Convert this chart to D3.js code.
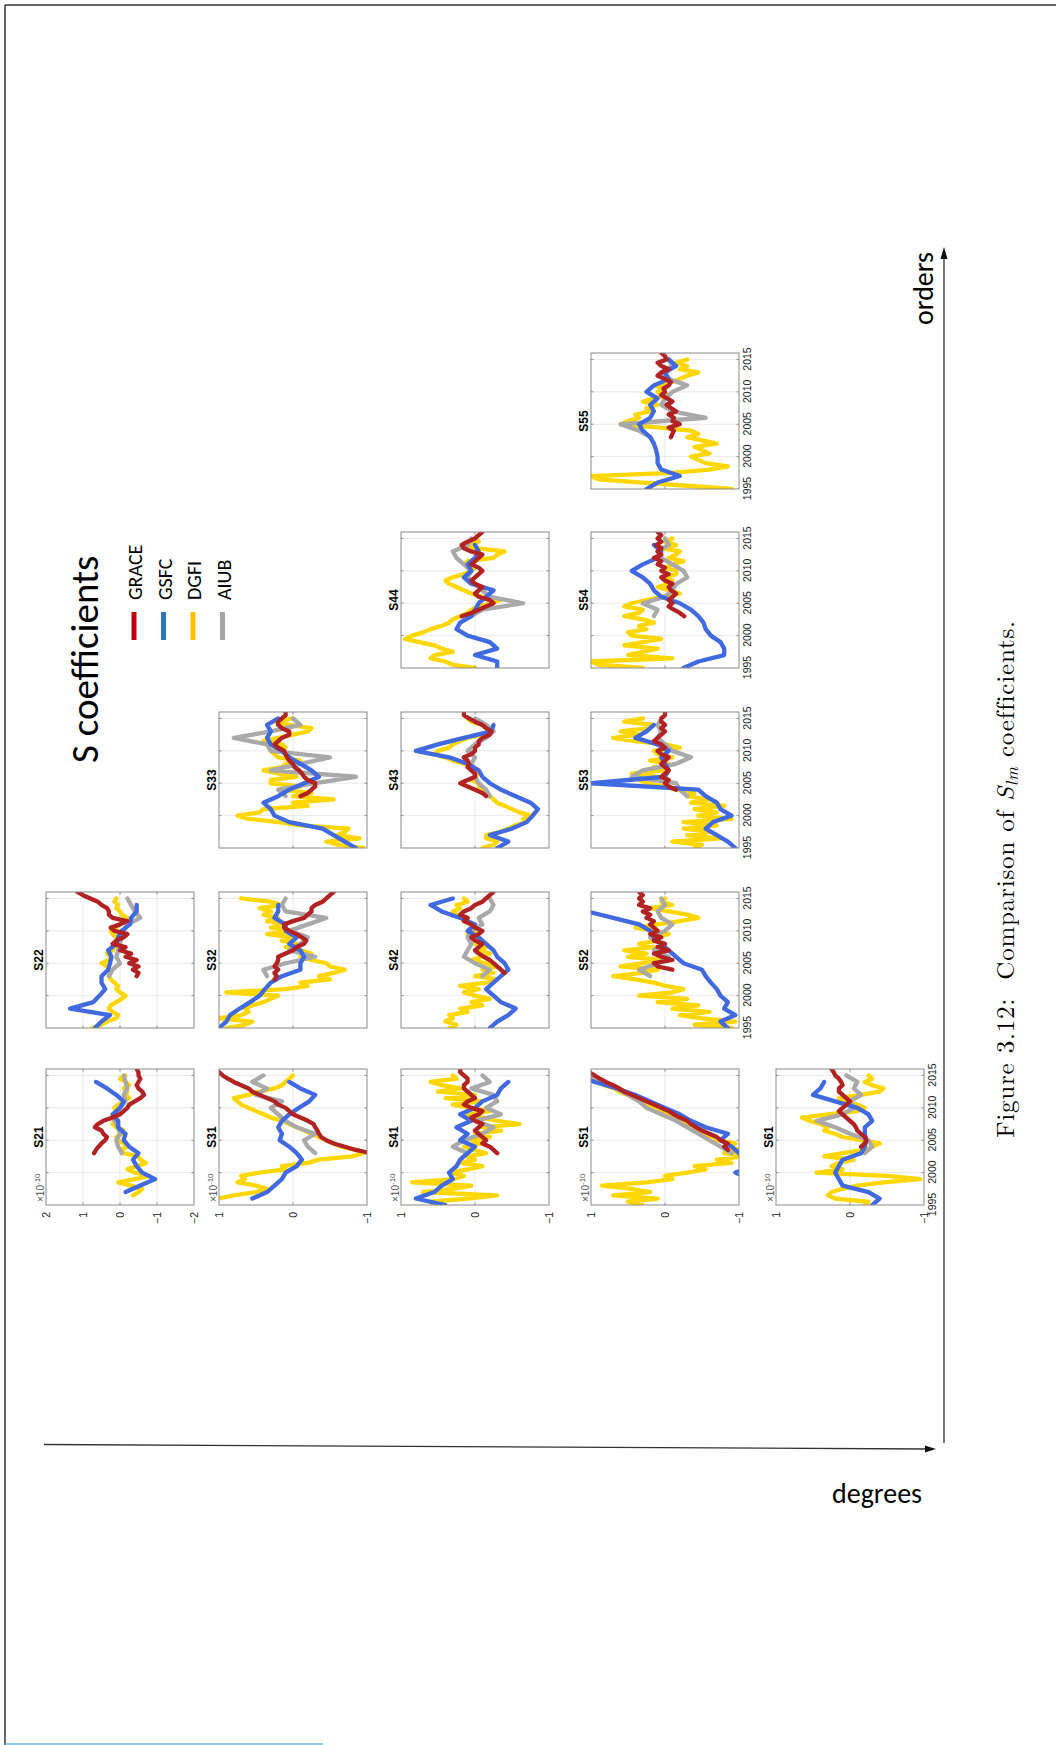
<!DOCTYPE html>
<html>
<head>
<meta charset="utf-8">
<script src="https://cdn.jsdelivr.net/npm/d3@7"></script>
<style>
body { margin: 0; background: #fff; }
svg { display: block; }
</style>
</head>
<body>
<svg id="page" width="1056" height="1745"></svg>
<script>
// time bases
var yearly = [1995,1996,1997,1998,1999,2000,2001,2002,2003,2004,2005,2006,2007,2008,2009,2010,2011,2012,2013,2014,2015];
var halfYears = [1995,1995.5,1996,1996.5,1997,1997.5,1998,1998.5,1999,1999.5,2000,2000.5,2001,2001.5,2002,2002.5,2003,2003.5,2004,2004.5,2005,2005.5,2006,2006.5,2007,2007.5,2008,2008.5,2009,2009.5,2010,2010.5,2011,2011.5,2012,2012.5,2013,2013.5,2014,2014.5,2015];
var graceTimes = [2002.5,2003,2003.5,2004,2004.5,2005,2005.5,2006,2006.5,2007,2007.5,2008,2008.5,2009,2009.5,2010,2010.5,2011,2011.5,2012,2012.5,2013,2013.5,2014,2014.5,2015,2015.5,2016];
var aiubYears = [2003,2004,2005,2006,2007,2008,2009,2010,2011,2012,2013,2014,2015];
var yearTicks = [1995,2000,2005,2010,2015];

// values (x 1e-10)
var s21_gsfc = [null,null,-0.15,-0.55,-0.95,-0.6,-0.45,-0.35,-0.5,-0.25,-0.1,-0.15,0.05,0.05,0.2,0.0,-0.1,0.1,0.35,0.65,null];
var s21_dgfi = [null,null,null,-0.35,-0.5,-0.6,-0.3,0.05,-0.4,-0.8,-0.4,-0.2,-0.45,-0.7,-0.55,-0.5,-0.1,0.0,-0.2,-0.1,0.05,0.1,-0.05,-0.1,0.1,0.2,0.15,0.25,0.15,0.1,0.15,0.05,-0.1,-0.25,-0.15,-0.2,-0.1,-0.25,-0.15,0.0,-0.15];
var s21_aiub = [-0.05,0.05,0.1,0.0,0.05,0.15,0.15,0.0,-0.15,-0.1,-0.2,-0.15,-0.1];
var s21_grace = [null,0.7,0.65,0.58,0.5,0.4,0.35,0.45,0.5,0.68,0.6,0.45,0.2,0.0,-0.1,-0.2,-0.25,-0.4,-0.55,-0.65,-0.6,-0.5,-0.45,-0.5,-0.55,-0.5,-0.5,-0.45];

var s22_gsfc = [0.68,0.5,0.27,1.35,0.72,0.55,0.4,0.5,0.5,0.32,0.27,0.23,0.32,0.1,0.05,-0.04,-0.27,-0.3,-0.45,-0.45,null];
var s22_dgfi = [0.75,0.5,0.35,0.1,0.05,0.2,0.3,0.25,0.1,-0.05,-0.15,0.0,0.1,0.05,0.15,0.25,0.3,0.25,0.3,0.35,0.5,0.3,0.25,0.35,0.2,0.15,0.0,0.05,0.1,0.2,0.25,0.1,0.0,-0.1,-0.2,-0.05,0.0,0.1,0.05,0.15,0.1];
var s22_aiub = [0.3,0.2,0.0,0.1,0.05,0.0,-0.05,-0.1,-0.2,-0.55,-0.4,-0.3,-0.2];
var s22_grace = [null,-0.45,-0.5,-0.35,-0.5,-0.25,-0.45,-0.15,-0.3,0.0,-0.15,0.2,0.1,-0.1,-0.2,0.15,0.25,0.0,-0.2,0.2,0.3,0.3,0.35,0.5,0.6,0.8,1.0,1.15];

var s31_gsfc = [null,0.55,0.35,0.25,0.15,0.1,-0.05,-0.12,-0.05,0.05,0.18,0.15,0.2,0.15,0.05,-0.08,-0.22,-0.3,-0.1,0.05,null];
var s31_dgfi = [null,null,1.0,0.8,0.5,0.35,0.5,0.75,0.65,0.7,0.45,0.1,0.15,-0.2,-0.35,-0.8,-0.95,-0.85,-0.65,-0.55,-0.45,-0.35,-0.25,-0.15,-0.05,0.05,0.15,0.3,0.4,0.5,0.6,0.7,0.75,0.8,0.6,0.45,0.25,0.15,0.1,0.05,0.0];
var s31_aiub = [-0.3,-0.2,-0.15,-0.3,-0.05,0.1,0.2,0.3,0.15,0.5,0.35,0.55,0.4];
var s31_grace = [null,-1.05,-0.85,-0.7,-0.55,-0.45,-0.38,-0.35,-0.33,-0.3,-0.28,-0.2,-0.1,0.0,0.05,0.1,0.2,0.25,0.35,0.45,0.55,0.6,0.7,0.8,0.88,0.95,1.0,1.05];

var s32_gsfc = [1.0,0.9,0.85,0.72,0.58,0.45,0.38,0.3,0.15,-0.1,-0.1,-0.15,-0.1,0.05,-0.05,0.1,0.1,0.25,0.2,0.2,null];
var s32_dgfi = [0.9,0.65,0.55,1.0,0.7,0.6,0.65,0.55,0.4,0.3,0.2,0.9,0.1,-0.2,-0.1,-0.5,-0.35,-0.55,-0.7,-0.5,-0.45,-0.25,-0.1,-0.25,-0.1,0.1,-0.05,0.15,0.0,0.35,0.0,0.3,0.1,0.35,0.2,0.4,0.3,0.45,0.15,0.3,0.7];
var s32_aiub = [0.35,0.4,0.1,-0.3,0.05,-0.1,-0.2,0.05,-0.2,-0.45,0.1,0.15,0.1];
var s32_grace = [0.25,0.22,0.25,0.2,0.25,0.22,0.2,0.2,0.1,0.0,-0.05,-0.15,-0.18,-0.12,-0.05,0.05,0.12,0.12,0.0,-0.15,-0.2,-0.25,-0.25,-0.3,-0.4,-0.45,-0.5,-0.55];

var s33_gsfc = [-0.85,-0.7,-0.55,-0.4,0.05,0.25,0.3,0.4,0.2,0.05,-0.15,-0.35,-0.25,-0.1,0.05,0.15,0.3,0.35,0.3,0.35,0.2];
var s33_dgfi = [-0.95,-0.6,-0.45,-0.9,-0.6,-0.7,-0.75,-0.1,0.2,0.6,0.75,0.45,0.4,-0.2,0.0,-0.55,0.0,-0.25,0.15,-0.1,0.3,0.3,-0.05,0.2,0.4,0.15,0.1,-0.1,0.2,0.25,0.3,0.1,0.15,0.4,0.2,0.0,-0.2,-0.25,0.05,0.25,0.0];
var s33_aiub = [0.1,0.2,-0.3,-0.85,0.3,-0.1,-0.5,0.3,0.35,0.8,0.3,-0.1,0.0];
var s33_grace = [null,-0.1,-0.2,-0.25,-0.3,-0.3,-0.2,-0.15,-0.12,-0.08,-0.02,0.0,0.05,0.08,0.1,0.12,0.2,0.25,0.2,0.15,0.05,0.05,0.15,0.2,0.2,0.15,0.1,0.1];

var s41_gsfc = [0.4,0.8,0.55,0.45,0.3,0.35,0.25,0.2,0.1,0.0,0.2,0.1,0.25,0.05,0.2,0.0,-0.1,-0.3,-0.35,-0.45,null];
var s41_dgfi = [0.55,0.6,0.1,-0.3,0.7,0.3,0.05,0.85,0.3,0.15,0.35,0.1,-0.1,0.2,0.0,0.1,-0.15,0.0,0.15,-0.1,0.05,-0.2,0.0,-0.35,-0.1,-0.6,-0.3,-0.1,0.1,-0.2,0.05,0.3,-0.1,0.4,0.0,0.5,0.2,0.45,0.6,0.25,0.3];
var s41_aiub = [0.1,0.3,0.15,-0.1,-0.25,0.0,-0.35,-0.15,-0.3,-0.25,0.05,-0.2,-0.1];
var s41_grace = [null,-0.3,-0.25,-0.2,-0.1,-0.15,-0.1,-0.05,0.0,-0.05,-0.1,0.0,0.05,-0.05,-0.1,0.05,0.15,0.1,0.0,0.05,0.1,0.15,0.15,0.1,0.1,0.15,0.2,0.2];

var s42_gsfc = [-0.2,-0.3,-0.45,-0.55,-0.35,-0.25,-0.15,-0.25,-0.35,-0.45,-0.4,-0.3,-0.25,-0.15,-0.05,0.1,0.0,0.2,0.45,0.6,0.3];
var s42_dgfi = [0.35,0.25,0.4,0.3,0.35,0.1,0.2,-0.1,0.05,-0.2,0.0,0.15,-0.05,0.2,-0.15,-0.3,0.0,-0.25,-0.1,-0.3,-0.15,0.05,-0.1,-0.2,-0.05,-0.15,0.0,-0.1,0.05,0.1,-0.05,0.0,0.05,0.15,0.1,0.25,0.3,0.2,0.25,0.1,0.15];
var s42_aiub = [-0.1,-0.2,0.0,0.15,0.1,0.05,0.1,0.05,-0.1,-0.05,-0.2,-0.25,-0.2];
var s42_grace = [null,null,-0.4,-0.35,-0.3,-0.25,-0.2,-0.12,-0.05,0.0,-0.05,-0.1,0.0,0.05,-0.05,-0.1,0.0,0.05,0.15,0.1,0.2,0.15,0.05,0.0,-0.1,-0.15,-0.2,-0.25];

var s43_gsfc = [-0.3,-0.45,-0.2,-0.5,-0.7,-0.78,-0.85,-0.75,-0.55,-0.35,-0.2,-0.1,-0.05,0.1,0.35,0.8,0.5,0.15,-0.22,-0.25,null];
var s43_dgfi = [-0.1,-0.25,-0.3,-0.15,-0.15,-0.35,-0.45,-0.55,-0.7,-0.65,-0.75,-0.6,-0.5,-0.4,-0.3,-0.25,-0.2,-0.1,-0.15,-0.05,-0.05,0.05,0.0,-0.05,-0.05,0.05,0.15,0.3,0.4,0.55,0.5,0.35,0.3,0.2,0.1,-0.1,-0.25,-0.15,-0.1,0.05,0.1];
var s43_aiub = [-0.2,-0.15,-0.05,0.0,0.0,0.05,0.0,0.1,0.0,-0.15,-0.25,-0.15,0.0];
var s43_grace = [null,-0.15,-0.1,0.0,0.1,0.2,0.1,0.0,0.0,0.05,0.1,0.08,0.1,0.15,0.05,0.0,0.0,-0.05,-0.05,-0.1,-0.2,-0.22,-0.15,-0.1,0.0,0.08,0.15,0.15];

var s44_gsfc = [-0.3,-0.3,0.0,-0.3,-0.2,0.1,0.25,0.2,0.05,0.0,-0.05,-0.15,-0.25,0.05,0.15,0.05,0.1,0.0,-0.05,0.0,null];
var s44_dgfi = [0.0,0.3,0.4,0.6,0.55,0.3,0.45,0.55,0.75,0.95,0.85,0.7,0.6,0.45,0.35,0.3,0.2,0.1,0.05,-0.05,-0.2,-0.35,-0.1,0.05,0.15,0.25,0.35,0.4,0.3,0.15,0.05,0.0,0.15,0.1,-0.25,-0.3,-0.4,0.0,0.1,-0.05,0.0];
var s44_aiub = [0.05,-0.1,-0.65,-0.2,-0.1,0.0,0.1,0.05,0.15,0.25,0.3,0.1,0.05];
var s44_grace = [null,0.18,0.05,-0.05,-0.15,-0.25,-0.2,-0.05,0.0,-0.05,-0.1,0.0,0.05,0.0,-0.05,-0.1,-0.05,0.05,0.0,-0.05,-0.1,0.05,0.15,0.18,0.1,0.0,-0.05,-0.1];

var s51_gsfc = [-1.3,-1.4,-1.3,-1.2,-1.15,-0.95,-1.2,-1.1,-1.0,-0.9,-0.75,-0.85,-0.55,-0.35,-0.2,0.0,0.2,0.4,0.65,0.95,1.2];
var s51_dgfi = [0.3,0.5,0.1,0.7,0.2,0.45,0.85,0.25,-0.1,0.0,-0.3,-0.55,-0.4,-0.9,-0.7,-1.05,-0.8,-1.0,-0.85,-0.95,-0.7,-0.65,-0.5,-0.45,-0.4,-0.3,-0.22,-0.1,-0.05,0.08,0.1,0.22,0.28,0.42,0.5,0.62,0.68,0.82,0.9,1.0,1.1];
var s51_aiub = [-0.9,-0.75,-0.6,-0.45,-0.3,-0.15,0.05,0.25,0.35,0.5,0.65,0.85,1.05];
var s51_grace = [null,null,-0.85,-0.8,-0.85,-0.75,-0.7,-0.6,-0.5,-0.42,-0.35,-0.3,-0.2,-0.12,-0.05,0.05,0.15,0.25,0.35,0.45,0.55,0.62,0.7,0.8,0.88,0.95,1.02,1.1];

var s52_gsfc = [-0.85,-0.75,-0.95,-0.8,-0.85,-0.75,-0.7,-0.62,-0.55,-0.5,-0.25,-0.15,-0.05,0.05,0.15,0.2,0.35,0.7,1.05,1.2,1.1];
var s52_dgfi = [-0.9,-0.4,-0.95,-0.5,-0.2,-0.6,-0.1,-0.45,0.1,-0.3,0.35,-0.1,-0.25,0.0,0.15,0.4,0.7,0.3,0.1,0.6,0.3,0.05,0.5,0.25,0.55,0.15,0.35,0.1,0.2,-0.05,0.15,0.4,0.1,-0.2,-0.45,-0.3,-0.05,0.2,-0.1,0.05,0.0];
var s52_aiub = [0.2,0.35,0.1,-0.05,0.15,0.05,0.2,0.0,-0.1,0.05,0.1,0.0,0.05];
var s52_grace = [null,null,null,-0.1,0.1,0.15,-0.1,0.05,0.15,-0.05,0.1,0.0,0.15,0.05,0.2,0.1,0.15,0.2,0.15,0.25,0.2,0.3,0.2,0.35,0.3,0.35,0.3,0.35];

var s53_gsfc = [-0.95,-0.85,-0.7,-0.55,-0.65,-0.9,-0.75,-0.7,-0.55,-0.45,1.0,0.0,-0.05,0.0,0.05,-0.05,0.1,0.4,0.25,0.15,null];
var s53_dgfi = [-0.4,-0.5,-0.1,-0.75,-0.3,-0.6,-0.25,-0.7,-0.25,-0.9,-0.45,-0.7,-0.4,-0.8,-0.35,-0.6,-0.3,-0.4,-0.15,0.0,0.25,0.35,0.1,0.45,0.0,0.15,-0.05,0.2,-0.1,0.1,0.15,-0.2,0.0,0.4,0.7,0.35,0.6,0.2,0.15,0.55,0.3];
var s53_aiub = [-0.3,-0.2,-0.15,0.45,0.3,-0.15,-0.35,-0.1,0.0,0.1,0.05,0.1,0.05];
var s53_grace = [null,null,null,-0.15,-0.05,0.0,-0.05,0.05,0.0,-0.05,0.0,0.05,0.0,-0.05,0.05,0.1,0.0,0.05,0.15,0.1,0.05,0.0,0.05,0.0,0.05,0.05,0.0,0.0];

var s54_gsfc = [-0.25,-0.45,-0.8,-0.8,-0.75,-0.62,-0.55,-0.52,-0.45,-0.35,-0.2,0.05,0.15,0.2,0.3,0.45,0.3,0.1,0.05,0.15,null];
var s54_dgfi = [0.3,0.9,1.0,-0.1,0.5,0.3,0.1,0.55,0.3,0.05,0.45,0.5,0.25,0.35,0.15,0.3,0.55,0.35,0.3,0.55,0.45,0.25,0.05,-0.2,-0.05,0.1,-0.05,-0.1,0.0,-0.15,-0.15,0.0,-0.1,-0.25,-0.05,-0.15,-0.2,0.05,-0.15,0.0,-0.1];
var s54_aiub = [0.15,0.1,0.3,0.0,-0.1,-0.15,-0.3,-0.25,-0.1,0.05,0.1,-0.05,0.0];
var s54_grace = [null,-0.26,-0.2,-0.12,-0.05,-0.1,-0.05,-0.1,-0.15,-0.08,-0.05,-0.1,0.0,0.05,-0.05,0.05,0.0,0.1,0.05,0.15,0.05,0.1,0.05,0.12,0.05,0.1,0.05,0.1];

var s55_gsfc = [0.25,0.1,-0.2,0.05,0.1,0.1,0.12,0.15,0.2,0.3,0.35,0.2,0.15,0.2,0.1,0.25,0.15,-0.05,0.0,-0.15,-0.05];
var s55_dgfi = [-0.9,-0.3,0.3,0.9,1.0,-0.1,-0.6,-0.85,-0.55,-0.45,-0.35,-0.6,-0.5,-0.4,-0.7,-0.5,-0.3,-0.45,-0.35,0.1,0.6,0.5,0.35,0.4,0.2,0.25,0.1,0.3,0.15,-0.05,0.1,0.0,0.15,-0.1,-0.2,-0.3,-0.45,-0.2,-0.3,-0.15,-0.3];
var s55_aiub = [0.2,0.35,0.6,-0.55,-0.1,0.05,0.0,-0.1,-0.3,-0.05,0.05,-0.1,-0.05];
var s55_grace = [null,-0.08,-0.1,-0.12,-0.05,-0.2,-0.1,-0.12,-0.05,-0.15,-0.08,-0.02,-0.1,-0.03,0.05,0.0,0.02,-0.05,-0.08,0.0,0.1,0.05,-0.05,0.05,0.1,-0.02,0.0,0.05];

var s61_gsfc = [-0.3,-0.4,-0.25,0.1,0.15,0.2,0.15,0.1,-0.15,-0.2,-0.22,-0.2,-0.2,-0.3,-0.25,-0.1,0.2,0.5,0.4,0.35,null];
var s61_dgfi = [-0.2,-0.25,0.2,0.3,0.25,0.1,-0.1,-0.45,-0.95,-0.5,0.45,0.1,0.25,0.15,-0.05,0.35,0.1,-0.2,-0.3,-0.4,-0.15,0.1,0.2,0.35,0.3,0.4,0.55,0.65,0.3,-0.1,-0.2,-0.1,0.05,0.15,-0.15,-0.4,-0.45,-0.3,-0.2,-0.3,-0.25];
var s61_aiub = [-0.2,-0.3,-0.25,0.0,0.2,0.45,0.1,-0.05,0.0,-0.15,-0.05,-0.1,0.05];
var s61_grace = [null,null,null,-0.15,-0.2,-0.22,-0.2,-0.15,-0.1,-0.08,-0.05,0.0,0.05,0.1,0.15,0.1,0.05,0.0,0.05,0.1,0.15,0.15,0.1,0.12,0.15,0.2,0.22,0.25];

var legendNames = ["GRACE", "GSFC", "DGFI", "AIUB"];
var legendColors = ["#C00000", "#2E75B6", "#FFC000", "#A5A5A5"];

var panels = [
  {name: "S21", l: 2, m: 1, range: [-2, 2], gsfc: s21_gsfc, dgfi: s21_dgfi, aiub: s21_aiub, grace: s21_grace},
  {name: "S22", l: 2, m: 2, range: [-2, 2], gsfc: s22_gsfc, dgfi: s22_dgfi, aiub: s22_aiub, grace: s22_grace},
  {name: "S31", l: 3, m: 1, range: [-1, 1], gsfc: s31_gsfc, dgfi: s31_dgfi, aiub: s31_aiub, grace: s31_grace},
  {name: "S32", l: 3, m: 2, range: [-1, 1], gsfc: s32_gsfc, dgfi: s32_dgfi, aiub: s32_aiub, grace: s32_grace},
  {name: "S33", l: 3, m: 3, range: [-1, 1], gsfc: s33_gsfc, dgfi: s33_dgfi, aiub: s33_aiub, grace: s33_grace},
  {name: "S41", l: 4, m: 1, range: [-1, 1], gsfc: s41_gsfc, dgfi: s41_dgfi, aiub: s41_aiub, grace: s41_grace},
  {name: "S42", l: 4, m: 2, range: [-1, 1], gsfc: s42_gsfc, dgfi: s42_dgfi, aiub: s42_aiub, grace: s42_grace},
  {name: "S43", l: 4, m: 3, range: [-1, 1], gsfc: s43_gsfc, dgfi: s43_dgfi, aiub: s43_aiub, grace: s43_grace},
  {name: "S44", l: 4, m: 4, range: [-1, 1], gsfc: s44_gsfc, dgfi: s44_dgfi, aiub: s44_aiub, grace: s44_grace},
  {name: "S51", l: 5, m: 1, range: [-1, 1], gsfc: s51_gsfc, dgfi: s51_dgfi, aiub: s51_aiub, grace: s51_grace},
  {name: "S52", l: 5, m: 2, range: [-1, 1], gsfc: s52_gsfc, dgfi: s52_dgfi, aiub: s52_aiub, grace: s52_grace},
  {name: "S53", l: 5, m: 3, range: [-1, 1], gsfc: s53_gsfc, dgfi: s53_dgfi, aiub: s53_aiub, grace: s53_grace},
  {name: "S54", l: 5, m: 4, range: [-1, 1], gsfc: s54_gsfc, dgfi: s54_dgfi, aiub: s54_aiub, grace: s54_grace},
  {name: "S55", l: 5, m: 5, range: [-1, 1], gsfc: s55_gsfc, dgfi: s55_dgfi, aiub: s55_aiub, grace: s55_grace},
  {name: "S61", l: 6, m: 1, range: [-1, 1], gsfc: s61_gsfc, dgfi: s61_dgfi, aiub: s61_aiub, grace: s61_grace}
];

var seriesDefs = [
  {key: "dgfi", color: "#FFD700", times: halfYears},
  {key: "aiub", color: "#A9A9A9", times: aiubYears},
  {key: "gsfc", color: "#4169E1", times: yearly},
  {key: "grace", color: "#B22222", times: graceTimes}
];

var svg = d3.select("#page");

// page frame
svg.append("line").attr("x1", 5).attr("y1", 5).attr("x2", 1056).attr("y2", 5)
    .attr("stroke", "#333").attr("stroke-width", 1.5);
svg.append("line").attr("x1", 5).attr("y1", 5).attr("x2", 5).attr("y2", 1745)
    .attr("stroke", "#333").attr("stroke-width", 1.5);
svg.append("line").attr("x1", 5).attr("y1", 1744).attr("x2", 323).attr("y2", 1744)
    .attr("stroke", "#66b8dc").attr("stroke-width", 1.5);

// the figure is drawn landscape and turned a quarter
var land = svg.append("g").attr("transform", "translate(0,1745) rotate(-90)");
var defs = svg.append("defs");

var rowTop = [46, 219, 401, 591, 776], boxH = 148;
var colLeft = [540, 717, 897, 1077, 1256], boxW = 136;
var axisFont = "'Liberation Sans', Arial, Helvetica, sans-serif";

panels.forEach(function(p, i) {
    var g = land.append("g")
        .attr("transform", "translate(" + colLeft[p.m - 1] + "," + rowTop[p.l - 2] + ")");

    var x = d3.scaleLinear().domain([1995, 2016]).range([0, boxW]);
    var y = d3.scaleLinear().domain(p.range).range([boxH, 0]);
    var vTicks = p.range[1] == 2 ? [-2, -1, 0, 1, 2] : [-1, 0, 1];

    defs.append("clipPath").attr("id", "clip" + i)
        .append("rect").attr("width", boxW).attr("height", boxH);

    // grid
    g.selectAll(".gx").data(yearTicks.slice(1)).enter().append("line")
        .attr("x1", function(d) { return x(d); }).attr("x2", function(d) { return x(d); })
        .attr("y1", 0).attr("y2", boxH)
        .attr("stroke", "#e3e3e3").attr("stroke-width", 0.8);
    g.selectAll(".gy").data(vTicks.slice(1, -1)).enter().append("line")
        .attr("x1", 0).attr("x2", boxW)
        .attr("y1", function(d) { return y(d); }).attr("y2", function(d) { return y(d); })
        .attr("stroke", "#e3e3e3").attr("stroke-width", 0.8);

    // series
    var lines = g.append("g").attr("clip-path", "url(#clip" + i + ")");
    seriesDefs.forEach(function(s) {
        var vals = p[s.key];
        var pts = s.times.map(function(t, k) { return [t, vals[k]]; });
        var line = d3.line()
            .defined(function(d) { return d[1] != null; })
            .x(function(d) { return x(d[0]); })
            .y(function(d) { return y(d[1]); });
        lines.append("path").datum(pts)
            .attr("d", line)
            .attr("fill", "none")
            .attr("stroke", s.color)
            .attr("stroke-width", 4.3)
            .attr("stroke-linejoin", "round")
            .attr("stroke-linecap", "round");
    });

    // inward ticks on all sides
    yearTicks.slice(1).forEach(function(t) {
        g.append("line").attr("x1", x(t)).attr("x2", x(t)).attr("y1", boxH).attr("y2", boxH - 2.5)
            .attr("stroke", "#777").attr("stroke-width", 0.8);
        g.append("line").attr("x1", x(t)).attr("x2", x(t)).attr("y1", 0).attr("y2", 2.5)
            .attr("stroke", "#777").attr("stroke-width", 0.8);
    });
    vTicks.slice(1, -1).forEach(function(v) {
        g.append("line").attr("x1", 0).attr("x2", 2.5).attr("y1", y(v)).attr("y2", y(v))
            .attr("stroke", "#777").attr("stroke-width", 0.8);
        g.append("line").attr("x1", boxW).attr("x2", boxW - 2.5).attr("y1", y(v)).attr("y2", y(v))
            .attr("stroke", "#777").attr("stroke-width", 0.8);
    });

    g.append("rect").attr("width", boxW).attr("height", boxH)
        .attr("fill", "none").attr("stroke", "#8a8a8a").attr("stroke-width", 1);

    // title
    g.append("text")
        .attr("x", boxW / 2).attr("y", -3)
        .attr("text-anchor", "middle")
        .style("font-family", axisFont).style("font-weight", "bold").style("font-size", "12px")
        .text(p.name);

    // value axis on the first order only
    if (p.m == 1) {
        var ya = g.append("g")
            .call(d3.axisLeft(y).tickValues(vTicks).tickSize(0).tickPadding(7).tickFormat(d3.format("d")));
        ya.select(".domain").remove();
        ya.selectAll("text").style("font-family", axisFont).style("font-size", "10.5px").attr("fill", "#222");

        var ex = g.append("text").attr("x", 3).attr("y", -2)
            .style("font-family", axisFont).style("font-size", "10px").attr("fill", "#555");
        ex.append("tspan").text("\u00d710");
        ex.append("tspan").attr("dy", -4).style("font-size", "8px").text("-10");
    }

    // years below the last panel of each column
    if (p.name == "S61" || (p.l == 5 && p.m > 1)) {
        var xa = g.append("g").attr("transform", "translate(0," + boxH + ")")
            .call(d3.axisBottom(x).tickValues(yearTicks).tickSize(0).tickPadding(5).tickFormat(d3.format("d")));
        xa.select(".domain").remove();
        xa.selectAll("text").style("font-family", axisFont).style("font-size", "10.5px").attr("fill", "#222");
    }
});

// legend
var legendFont = "Carlito, Calibri, Lato, sans-serif";
land.append("text").attr("x", 982).attr("y", 98)
    .style("font-family", legendFont).style("font-size", "39px")
    .text("S coefficients");

legendNames.forEach(function(name, i) {
    var yy = 142 + i * 29.5;
    land.append("line").attr("x1", 1105).attr("x2", 1133).attr("y1", yy - 8).attr("y2", yy - 8)
        .attr("stroke", legendColors[i]).attr("stroke-width", 5);
    land.append("text").attr("x", 1145).attr("y", yy)
        .style("font-family", legendFont).style("font-size", "20px")
        .text(name);
});

// orders arrow and label
land.append("text").attr("x", 1420).attr("y", 933)
    .style("font-family", legendFont).style("font-size", "28px")
    .text("orders");

svg.append("line").attr("x1", 944).attr("y1", 1443).attr("x2", 944).attr("y2", 258)
    .attr("stroke", "#333").attr("stroke-width", 1.3);
svg.append("path").attr("d", "M944,247 L940.5,259 L947.5,259 Z").attr("fill", "#111");

svg.append("line").attr("x1", 44).attr("y1", 1444.5).attr("x2", 926).attr("y2", 1449)
    .attr("stroke", "#333").attr("stroke-width", 1.3);
svg.append("path").attr("d", "M936,1449 L925,1445.5 L925,1452.5 Z").attr("fill", "#111");

svg.append("text").attr("x", 832).attr("y", 1503)
    .style("font-family", legendFont).style("font-size", "28px")
    .text("degrees");

// caption
var cap = land.append("text").attr("x", 866).attr("y", 1014)
    .attr("text-anchor", "middle")
    .style("font-family", "'Latin Modern Roman', 'CMU Serif', 'Liberation Serif', serif")
    .style("font-size", "25px").style("letter-spacing", "0.8px").style("white-space", "pre");
cap.append("tspan").text("Figure 3.12:  Comparison of ");
cap.append("tspan").style("font-style", "italic").text("S");
cap.append("tspan").style("font-style", "italic").style("font-size", "17px").attr("dy", 4).text("lm");
cap.append("tspan").attr("dy", -4).text(" coefficients.");
</script>
</body>
</html>
